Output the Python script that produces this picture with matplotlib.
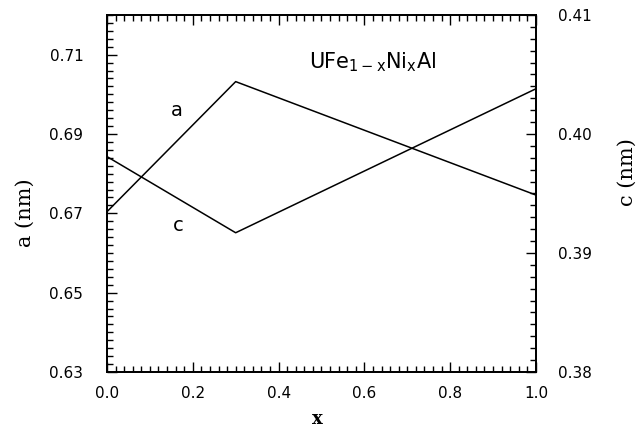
import matplotlib
matplotlib.use("Agg")
import matplotlib.pyplot as plt
from matplotlib.ticker import MultipleLocator

# Composition and lattice parameters of UFe(1-x)Ni(x)Al
x_vals = [0.0, 0.3, 1.0]
a_vals = [0.6704, 0.7032, 0.6746]   # a (nm), left axis
c_vals = [0.3981, 0.3917, 0.4038]   # c (nm), right axis

x_ticks = [0.0, 0.2, 0.4, 0.6, 0.8, 1.0]
a_ticks = [0.63, 0.65, 0.67, 0.69, 0.71]
c_ticks = [0.38, 0.39, 0.40, 0.41]

plt.rcParams["mathtext.default"] = "regular"
tick_font = {"family": "DejaVu Sans", "size": 11}

fig = plt.figure(figsize=(6.36, 4.29), dpi=100)
ax = fig.add_axes([0.1682, 0.1329, 0.6745, 0.8322])
ax2 = ax.twinx()

ax.plot(x_vals, a_vals, color="black", lw=1.1)
ax2.plot(x_vals, c_vals, color="black", lw=1.1)

ax.set_xlim(0.0, 1.0)
ax.set_ylim(0.63, 0.72)
ax2.set_ylim(0.38, 0.41)

ax.set_xticks(x_ticks)
ax.set_xticklabels([f"{v:.1f}" for v in x_ticks], fontdict=tick_font)
ax.set_yticks(a_ticks)
ax.set_yticklabels([f"{v:.2f}" for v in a_ticks], fontdict=tick_font)
ax2.set_yticks(c_ticks)
ax2.set_yticklabels([f"{v:.2f}" for v in c_ticks], fontdict=tick_font)

ax.xaxis.set_minor_locator(MultipleLocator(0.02))
ax.yaxis.set_minor_locator(MultipleLocator(0.002))
ax2.yaxis.set_minor_locator(MultipleLocator(0.001))

ax.tick_params(axis="x", which="both", direction="in", top=True, bottom=True,
               width=1.0, pad=10)
ax.tick_params(axis="y", which="both", direction="in", left=True, right=False,
               width=1.0, pad=17)
ax2.tick_params(axis="y", which="both", direction="in", right=True, width=1.0,
                pad=16)
for a_ in (ax, ax2):
    a_.tick_params(which="major", length=7)
    a_.tick_params(which="minor", length=4)
    for s in a_.spines.values():
        s.set_linewidth(1.3)

label_font = {"family": "DejaVu Serif", "size": 15}
ax.set_ylabel("a (nm)", fontdict=label_font, va="center")
ax.yaxis.set_label_coords(-0.191, 0.445)
ax2.set_ylabel("c (nm)", fontdict=label_font, rotation=90, va="center")
ax2.yaxis.set_label_coords(1.212, 0.56)
ax.set_xlabel("x", fontdict={"family": "DejaVu Serif", "size": 13,
                             "weight": "bold"}, va="baseline")
ax.xaxis.set_label_coords(0.49, -0.1457)

ax.text(0.163, 0.696, "a", fontsize=14, family="DejaVu Sans",
        ha="center", va="center")
ax.text(0.166, 0.667, "c", fontsize=14, family="DejaVu Sans",
        ha="center", va="center")
ax.text(0.62, 0.708, r"UFe$_{1-x}$Ni$_x$Al", fontsize=15,
        family="DejaVu Sans", ha="center", va="center")

fig.savefig("out.png", dpi=100)
